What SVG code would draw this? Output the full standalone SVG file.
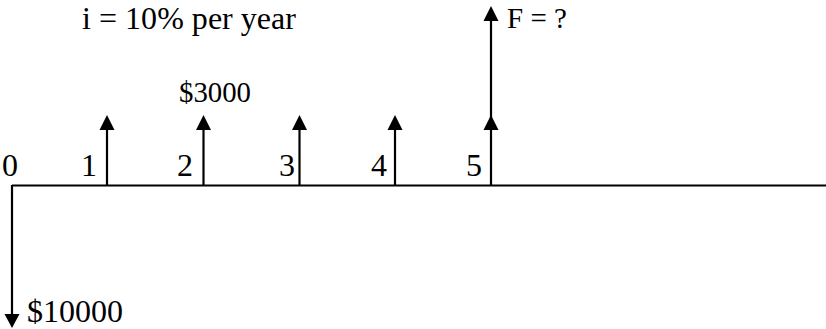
<svg xmlns="http://www.w3.org/2000/svg" width="826" height="329" viewBox="0 0 826 329">
<style>
  .t { font-family: "Liberation Serif", "Times New Roman", serif; font-size: 32px; fill: #000; }
  .s { font-size: 29px; }
  .ln { stroke: #000; stroke-width: 2.2; fill: none; }
  .hd { fill: #000; stroke: none; }
</style>
<rect width="826" height="329" fill="#fff"/>
<g id="connectors">
  <path class="ln" d="M12,185.5 H826"/>
  <path class="ln" d="M12,185 V318"/>
  <polygon class="hd" points="4.5,314 19.5,314 12,328"/>
  <path class="ln" d="M107,186 V128"/>
  <polygon class="hd" points="99.5,130 114.5,130 107,115"/>
  <path class="ln" d="M203.5,186 V128"/>
  <polygon class="hd" points="196,130 211,130 203.5,115"/>
  <path class="ln" d="M299.5,186 V128"/>
  <polygon class="hd" points="292,130 307,130 299.5,115"/>
  <path class="ln" d="M395,186 V128"/>
  <polygon class="hd" points="387.5,130 402.5,130 395,115"/>
  <path class="ln" d="M491,186 V20"/>
  <polygon class="hd" points="483.5,130 498.5,130 491,115"/>
  <polygon class="hd" points="483.5,21 498.5,21 491,6"/>
</g>
<g id="labels">
  <text class="t" x="82" y="29" textLength="214" lengthAdjust="spacing">i = 10% per year</text>
  <text class="t s" x="179" y="102" textLength="72" lengthAdjust="spacingAndGlyphs">$3000</text>
  <text class="t s" x="507" y="28">F = ?</text>
  <text class="t" x="27" y="322">$10000</text>
</g>
<g id="ticks">
  <text class="t" x="2" y="176">0</text>
  <text class="t" x="81" y="176">1</text>
  <text class="t" x="177" y="176">2</text>
  <text class="t" x="279" y="176">3</text>
  <text class="t" x="371" y="176">4</text>
  <text class="t" x="466" y="176">5</text>
</g>
</svg>
